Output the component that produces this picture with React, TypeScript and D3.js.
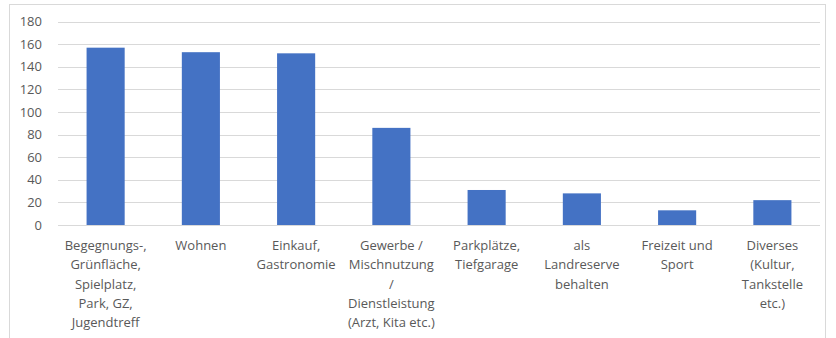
import React from "react";
import * as d3 from "d3";

const categories: string[][] = [
  ["Begegnungs-,", "Grünfläche,", "Spielplatz,", "Park, GZ,", "Jugendtreff"],
  ["Wohnen"],
  ["Einkauf,", "Gastronomie"],
  ["Gewerbe /", "Mischnutzung", "/", "Dienstleistung", "(Arzt, Kita etc.)"],
  ["Parkplätze,", "Tiefgarage"],
  ["als", "Landreserve", "behalten"],
  ["Freizeit und", "Sport"],
  ["Diverses", "(Kultur,", "Tankstelle", "etc.)"],
];
const values: number[] = [157, 153, 152, 86, 31, 28, 13, 22];
const yTicks: number[] = [0, 20, 40, 60, 80, 100, 120, 140, 160, 180];

const W = 836;
const H = 338;
const left = 58;
const right = 820;
const top = 21.7;
const bottom = 225;
const font = "'Open Sans', 'Noto Sans', sans-serif";

export default function App() {
  const ids = categories.map((_, i) => String(i));
  const x = d3.scaleBand<string>().domain(ids).range([left, right]).paddingInner(0.6).paddingOuter(0.3);
  const y = d3.scaleLinear().domain([0, 180]).range([bottom, top]);

  return (
    <svg
      width={W}
      height={H}
      style={{ position: "absolute", left: 0, top: 0, background: "#fff" }}
    >
      <rect x={9.5} y={4.5} width={816} height={H + 10} fill="#fff" stroke="#d9d9d9" />
      {yTicks.map((t) => (
        <g key={t}>
          <line x1={left} x2={right} y1={Math.round(y(t)) + 0.5} y2={Math.round(y(t)) + 0.5} stroke="#d9d9d9" strokeWidth={1} />
          <text x={42} y={y(t)} dy="0.35em" textAnchor="end" fontFamily={font} fontSize={13} fill="#595959">
            {t}
          </text>
        </g>
      ))}
      {values.map((v, i) => (
        <rect
          key={i}
          x={x(String(i))!}
          y={y(v)}
          width={x.bandwidth()}
          height={y(0) - y(v)}
          fill="#4472c4"
        />
      ))}
      {categories.map((lines, i) => (
        <text
          key={i}
          x={x(String(i))! + x.bandwidth() / 2}
          y={250}
          textAnchor="middle"
          fontFamily={font}
          fontSize={13}
          fill="#595959"
        >
          {lines.map((l, j) => (
            <tspan key={j} x={x(String(i))! + x.bandwidth() / 2} dy={j === 0 ? 0 : 19.3}>
              {l}
            </tspan>
          ))}
        </text>
      ))}
    </svg>
  );
}
